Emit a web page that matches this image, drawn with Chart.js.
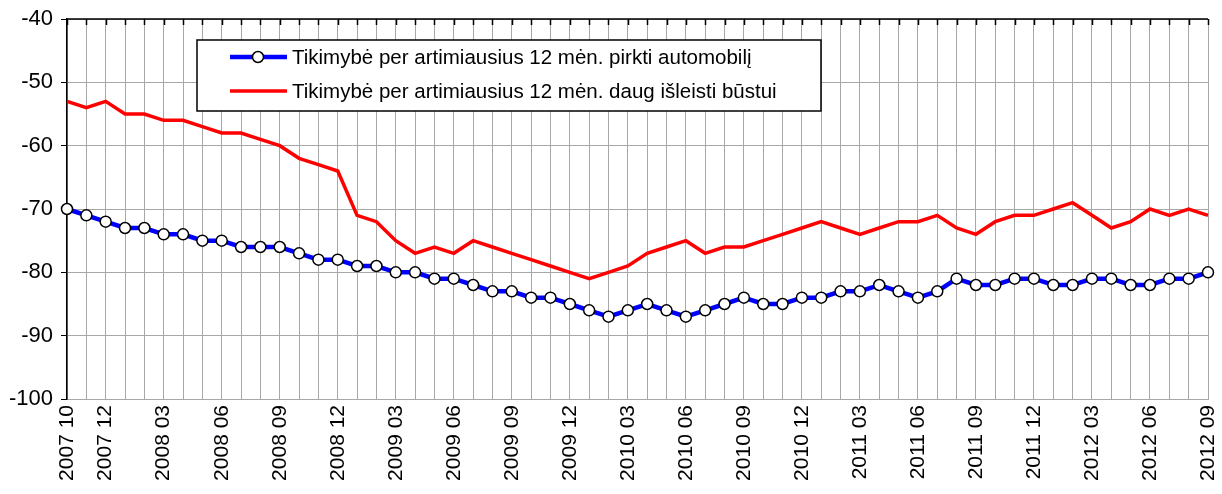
<!DOCTYPE html>
<html>
<head>
<meta charset="utf-8">
<script src="https://cdn.jsdelivr.net/npm/chart.js@4"></script>
<style>
  body { margin: 0; background: #fff; }
  #wrap { width: 1222px; height: 494px; }
</style>
</head>
<body>
<div id="wrap"><canvas id="myChart"></canvas></div>
<script>
var months = [
  '2007 10', '2007 11', '2007 12',
  '2008 01', '2008 02', '2008 03', '2008 04', '2008 05', '2008 06', '2008 07', '2008 08', '2008 09', '2008 10', '2008 11', '2008 12',
  '2009 01', '2009 02', '2009 03', '2009 04', '2009 05', '2009 06', '2009 07', '2009 08', '2009 09', '2009 10', '2009 11', '2009 12',
  '2010 01', '2010 02', '2010 03', '2010 04', '2010 05', '2010 06', '2010 07', '2010 08', '2010 09', '2010 10', '2010 11', '2010 12',
  '2011 01', '2011 02', '2011 03', '2011 04', '2011 05', '2011 06', '2011 07', '2011 08', '2011 09', '2011 10', '2011 11', '2011 12',
  '2012 01', '2012 02', '2012 03', '2012 04', '2012 05', '2012 06', '2012 07', '2012 08', '2012 09'
];

// labels that are actually printed under the axis
var shownLabels = [
  '2007 10', '2007 12', '2008 03', '2008 06', '2008 09', '2008 12', '2009 03', '2009 06', '2009 09', '2009 12',
  '2010 03', '2010 06', '2010 09', '2010 12', '2011 03', '2011 06', '2011 09', '2011 12', '2012 03', '2012 06', '2012 09'
];

var carLabel = 'Tikimybė per artimiausius 12 mėn. pirkti automobilį';
var carValues = [
  -70, -71, -72, -73, -73, -74, -74, -75, -75, -76,
  -76, -76, -77, -78, -78, -79, -79, -80, -80, -81,
  -81, -82, -83, -83, -84, -84, -85, -86, -87, -86,
  -85, -86, -87, -86, -85, -84, -85, -85, -84, -84,
  -83, -83, -82, -83, -84, -83, -81, -82, -82, -81,
  -81, -82, -82, -81, -81, -82, -82, -81, -81, -80
];

var homeLabel = 'Tikimybė per artimiausius 12 mėn. daug išleisti būstui';
var homeValues = [
  -53, -54, -53, -55, -55, -56, -56, -57, -58, -58,
  -59, -60, -62, -63, -64, -71, -72, -75, -77, -76,
  -77, -75, -76, -77, -78, -79, -80, -81, -80, -79,
  -77, -76, -75, -77, -76, -76, -75, -74, -73, -72,
  -73, -74, -73, -72, -72, -71, -73, -74, -72, -71,
  -71, -70, -69, -71, -73, -72, -70, -71, -70, -71
];

var yTicks = { min: -100, max: -40, step: 10 };

var FONT = 'Arial, "Liberation Sans", sans-serif';

// black top axis with small inward tick marks + boxed legend inside the plot
var excelBits = {
  id: 'excelBits',
  afterDraw: function (chart) {
    var c = chart.ctx;
    var area = chart.chartArea;
    var x = chart.scales.x;
    c.save();
    c.strokeStyle = '#000';
    c.lineWidth = 1.5;
    c.beginPath();
    c.moveTo(area.left, area.top);
    c.lineTo(area.right, area.top);
    for (var i = 0; i < months.length; i++) {
      var px = Math.round(x.getPixelForValue(i)) + 0.5;
      c.moveTo(px, area.top);
      c.lineTo(px, area.top + 6);
    }
    c.stroke();

    // legend
    var bx = 197, by = 40, bw = 624, bh = 71;
    c.fillStyle = '#fff';
    c.fillRect(bx, by, bw, bh);
    c.lineWidth = 1.5;
    c.strokeRect(bx, by, bw, bh);
    var rows = [57, 91];
    chart.data.datasets.forEach(function (ds, k) {
      var y = rows[k];
      c.strokeStyle = ds.borderColor;
      c.lineWidth = ds.borderWidth;
      c.beginPath();
      c.moveTo(230, y);
      c.lineTo(287, y);
      c.stroke();
      if (ds.pointRadius > 0) {
        c.beginPath();
        c.arc(258, y, ds.pointRadius, 0, Math.PI * 2);
        c.fillStyle = ds.pointBackgroundColor;
        c.fill();
        c.lineWidth = ds.pointBorderWidth;
        c.strokeStyle = ds.pointBorderColor;
        c.stroke();
      }
      c.fillStyle = '#000';
      c.font = '20.5px ' + FONT;
      c.textBaseline = 'middle';
      c.fillText(ds.label, 292, y + 1);
    });
    c.restore();
  }
};

var ctx = document.getElementById('myChart').getContext('2d');
var chart = new Chart(ctx, {
  type: 'line',
  data: {
    labels: months,
    datasets: [{
      label: carLabel,
      data: carValues,
      borderColor: '#0000ff',
      borderWidth: 4.5,
      pointRadius: 5.5,
      pointBackgroundColor: '#fff',
      pointBorderColor: '#000',
      pointBorderWidth: 1.5,
      tension: 0,
      clip: false
    }, {
      label: homeLabel,
      data: homeValues,
      borderColor: '#ff0000',
      borderWidth: 3.5,
      pointRadius: 0,
      tension: 0,
      clip: false
    }]
  },
  options: {
    responsive: true,
    maintainAspectRatio: false,
    animation: false,
    layout: { padding: { top: 19, right: 14, left: 0, bottom: 0 } },
    plugins: {
      legend: { display: false },
      tooltip: { enabled: false }
    },
    scales: {
      x: {
        offset: false,
        grid: { color: '#a8a8a8', lineWidth: 1, drawTicks: false, offset: false },
        border: { color: '#a8a8a8', width: 1 },
        ticks: {
          autoSkip: false,
          maxRotation: 90,
          minRotation: 90,
          padding: 6,
          color: '#000',
          font: { family: FONT, size: 21 },
          callback: function (val) {
            var lab = months[val];
            return shownLabels.indexOf(lab) >= 0 ? lab : '';
          }
        },
        afterFit: function (scale) {
          scale.height = 95;
          scale.paddingLeft = 0;
          scale.paddingRight = 0;
        }
      },
      y: {
        min: yTicks.min,
        max: yTicks.max,
        grid: { color: '#a8a8a8', lineWidth: 1, tickColor: '#000', tickLength: 6 },
        border: { color: '#000', width: 1.5 },
        ticks: {
          stepSize: yTicks.step,
          padding: 8,
          color: '#000',
          font: { family: FONT, size: 22 }
        },
        afterFit: function (scale) {
          scale.width = 67;
          scale.paddingTop = 0;
          scale.paddingBottom = 0;
        }
      }
    }
  },
  plugins: [excelBits]
});
</script>
</body>
</html>
